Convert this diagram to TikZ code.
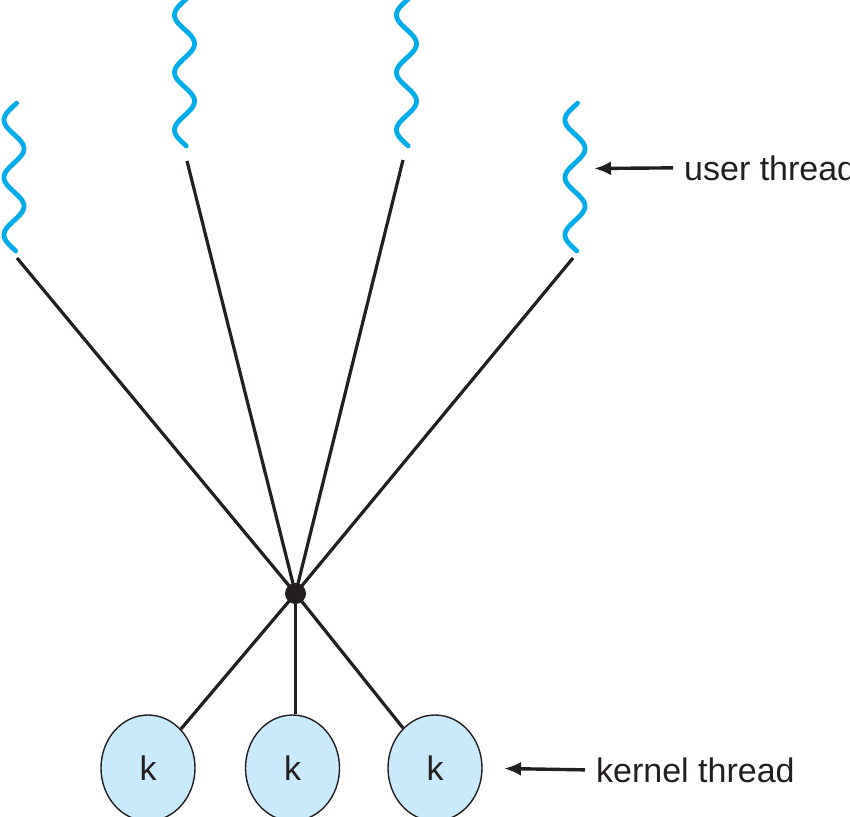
\documentclass[tikz,border=0pt]{standalone}
\usepackage{fontspec}
\setmainfont{Liberation Sans}
\usetikzlibrary{arrows.meta,shapes.geometric}
\definecolor{wavecol}{RGB}{0,172,236}
\definecolor{kfill}{RGB}{200,234,250}
\definecolor{ink}{RGB}{35,31,32}
\tikzset{
  wave/.style={draw=wavecol, line width=4.8pt, line cap=round, line join=round},
  conn/.style={draw=ink, line width=3.2pt},
  arr/.style={draw=ink, line width=3.4pt, -{Latex[length=17pt,width=14pt]}},
  kern/.style={ellipse, draw=ink, line width=1.4pt, fill=kfill, minimum width=94pt, minimum height=106pt, inner sep=0pt, font=\fontsize{34}{40}\selectfont, text=ink},
  hubdot/.style={circle, fill=ink, minimum size=21pt, inner sep=0pt},
  lbl/.style={inner sep=0pt, anchor=base west, font=\fontsize{34}{40}\selectfont, text=ink}
}
\begin{document}
\begin{tikzpicture}[x=1pt,y=-1pt]
\useasboundingbox (0,0) rectangle (850,816);
\clip (0,0) rectangle (850,816);
\fill[white] (0,0) rectangle (850,816);
% user threads (wavy)
\draw[wave] plot[domain=-15:910, samples=120, smooth] ({14 - 10*sin(\x)}, {105.6 + 0.1597*\x});
\draw[wave] plot[domain=-15:910, samples=120, smooth] ({184.5 - 10*sin(\x)}, {0.6 + 0.1597*\x});
\draw[wave] plot[domain=-15:910, samples=120, smooth] ({406.5 - 10*sin(\x)}, {0.6 + 0.1597*\x});
\draw[wave] plot[domain=-15:910, samples=120, smooth] ({575 - 10*sin(\x)}, {105.6 + 0.1597*\x});
% line start points below the user threads
\coordinate (u1) at (17,258);
\coordinate (u2) at (187,161);
\coordinate (u3) at (403,160);
\coordinate (u4) at (573,258);
% hub
\node[hubdot] (hub) at (295.5,593.5) {};
% kernel threads
\node[kern] (k1) at (148,768) {k};
\node[kern] (k2) at (292.5,768) {k};
\node[kern] (k3) at (435,768) {k};
% connectors
\draw[conn] (u1) -- (hub.center);
\draw[conn] (u2) -- (hub.center);
\draw[conn] (u3) -- (hub.center);
\draw[conn] (u4) -- (hub.center);
\draw[conn] (hub.center) -- (k1);
\draw[conn] (hub.center) -- (hub.center |- k2.north);
\draw[conn] (hub.center) -- (k3);
% labels
\node[lbl] (ulabel) at (684,180) {user thread};
\coordinate (utip) at (594,168.5);
\draw[arr] ([xshift=-11pt]ulabel.west) -- (utip);
\node[lbl] (klabel) at (596,782) {kernel thread};
\coordinate (ktip) at (504,768.5);
\draw[arr] ([xshift=-11pt]klabel.west) -- (ktip);
\end{tikzpicture}
\end{document}
